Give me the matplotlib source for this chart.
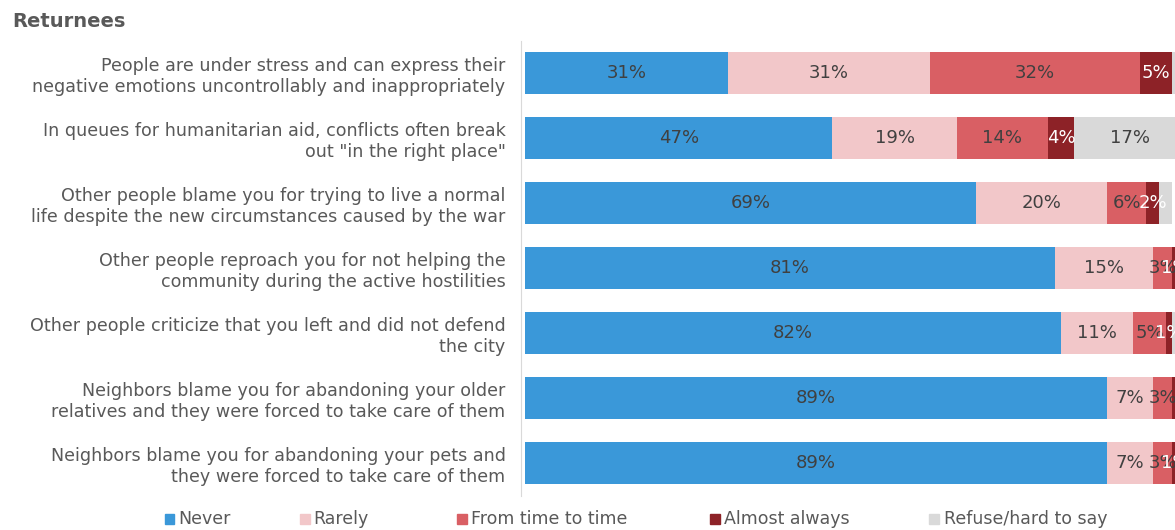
import matplotlib.pyplot as plt
from matplotlib.patches import Rectangle

statements = [
    'People are under stress and can express their\nnegative emotions uncontrollably and inappropriately',
    'In queues for humanitarian aid, conflicts often break\nout "in the right place"',
    'Other people blame you for trying to live a normal\nlife despite the new circumstances caused by the war',
    'Other people reproach you for not helping the\ncommunity during the active hostilities',
    'Other people criticize that you left and did not defend\nthe city',
    'Neighbors blame you for abandoning your older\nrelatives and they were forced to take care of them',
    'Neighbors blame you for abandoning your pets and\nthey were forced to take care of them',
]
answers = ['Never', 'Rarely', 'From time to time', 'Almost always', 'Refuse/hard to say']

never = [31, 47, 69, 81, 82, 89, 89]
rarely = [31, 19, 20, 15, 11, 7, 7]
sometimes = [32, 14, 6, 3, 5, 3, 3]
almost = [5, 4, 2, 1, 1, 0.4, 1]
refuse = [1, 17, 2, 0, 1, 1, 0]

colors = ['#3a98d9', '#f2c7c9', '#d95f64', '#8d2227', '#d9d9d9']
text_colors = ['#404040', '#404040', '#404040', 'white', '#404040']
# smallest value that still gets a label, per series
min_label = [1, 1, 1, 1, 5]

fig = plt.figure(figsize=(11.75, 5.3), dpi=100)
ax = fig.add_axes([0.4468, 0.065, 0.5566, 0.8585])

series = [never, rarely, sometimes, almost, refuse]
ypos = list(range(len(statements)))
left = [0] * len(statements)
for vals, col, tcol, lim in zip(series, colors, text_colors, min_label):
    ax.barh(ypos, vals, left=left, height=0.66, color=col, edgecolor='none')
    for y, l, v in zip(ypos, left, vals):
        if v >= lim:
            ax.text(l + v / 2, y, f'{v:.0f}%', ha='center', va='center',
                    fontsize=13, color=tcol)
    left = [a + b for a, b in zip(left, vals)]

ax.set_xlim(0, 100)
ax.set_ylim(len(statements) - 0.5, -0.5)
ax.set_xticks([])
ax.tick_params(axis='y', length=0, pad=11, labelsize=12.6, labelcolor='#595959')
ax.set_yticks(ypos)
ax.set_yticklabels(statements)
for lbl in ax.get_yticklabels():
    lbl.set_multialignment('center')
    lbl.set_linespacing(1.3)
for s in ['top', 'right', 'bottom']:
    ax.spines[s].set_visible(False)
ax.spines['left'].set_color('#d9d9d9')
ax.spines['left'].set_position(('outward', 3))

fig.text(0.010, 0.960, 'Returnees', fontsize=14, fontweight='bold', color='#595959',
         ha='left', va='center')

# legend row along the bottom
leg_x = [0.140, 0.255, 0.389, 0.604, 0.791]
for x, col, name in zip(leg_x, colors, answers):
    fig.patches.append(Rectangle((x, 0.012), 0.0085, 0.019, transform=fig.transFigure,
                                 color=col, figure=fig))
    fig.text(x + 0.012, 0.021, name, fontsize=12.5, color='#595959', va='center')

fig.savefig('out.png', dpi=100)
